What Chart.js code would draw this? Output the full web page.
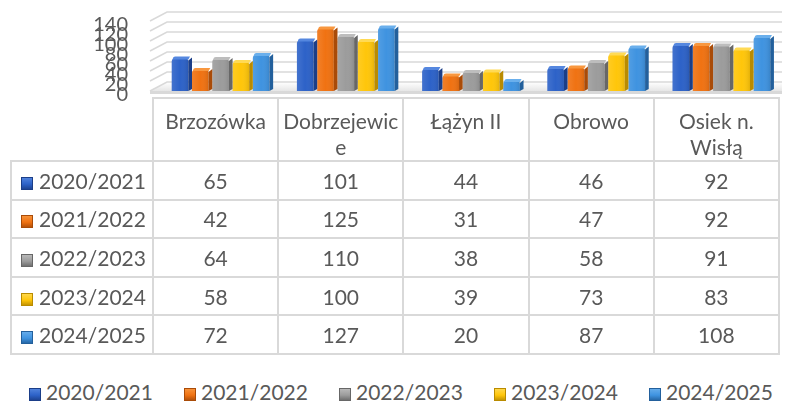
<!DOCTYPE html>
<html>
<head>
<meta charset="utf-8">
<script src="https://cdn.jsdelivr.net/npm/chart.js@4"></script>
<style>
  body { margin: 0; background: #fff; font-family: Lato, "Open Sans", sans-serif; color: #595959; }
  #page { position: relative; width: 791px; height: 403px; overflow: hidden; }
  #chartBox { position: absolute; left: 0; top: 0; width: 791px; height: 106px; }
  #tbl { position: absolute; left: 10px; top: 97px; width: 768px; border-collapse: collapse; table-layout: fixed; font-size: 21px; }
  #tbl td { border: 2px solid #d9d9d9; text-align: center; padding: 0; white-space: nowrap; }
  #tbl tr.head td { height: 62px; vertical-align: top; line-height: 26px; padding-top: 9px; box-sizing: border-box; }
  #tbl tr.head td.corner { border-top: none; border-left: none; }
  #tbl tr.row td { height: 36.6px; }
  #tbl td.name { text-align: left; padding-left: 9px; }
  .mk { display: inline-block; width: 12px; height: 13px; vertical-align: -1px; margin-right: 6px; }
  #legend { position: absolute; left: 29px; top: 379px; display: flex; font-size: 21px; line-height: 26px; }
  #legend .item { width: 155px; white-space: nowrap; }
  #legend .mk { margin-right: 5px; }
</style>
</head>
<body>
<div id="page">
  <div id="chartBox"><canvas id="chart"></canvas></div>
  <table id="tbl"></table>
  <div id="legend"></div>
</div>
<script>
const categories = ["Brzozówka", "Dobrzejewice", "Łążyn II", "Obrowo", "Osiek n. Wisłą"]
const headerLines = [["Brzozówka"], ["Dobrzejewic", "e"], ["Łążyn II"], ["Obrowo"], ["Osiek n.", "Wisłą"]]
const seasons = ["2020/2021", "2021/2022", "2022/2023", "2023/2024", "2024/2025"]
const values2020 = [65, 101, 44, 46, 92]
const values2021 = [42, 125, 31, 47, 92]
const values2022 = [64, 110, 38, 58, 91]
const values2023 = [58, 100, 39, 73, 83]
const values2024 = [72, 127, 20, 87, 108]
const seriesValues = [values2020, values2021, values2022, values2023, values2024]
const yTicks = [0, 20, 40, 60, 80, 100, 120, 140]

// front / side / top colours for each season
const frontColors = ["#2d62c8", "#f07212", "#9c9c9c", "#ffc60a", "#3f93e0"]
const sideColors = ["#1b3e88", "#a94b08", "#676767", "#b98b00", "#23609c"]
const topColors = ["#5587df", "#f8973f", "#bdbdbd", "#ffda55", "#6aafec"]

const BAR_PCT = 0.82

// table
const tbl = document.getElementById("tbl")
let html = '<colgroup><col style="width:142px">' + categories.map(() => '<col style="width:125.2px">').join("") + "</colgroup>"
html += '<tr class="head"><td class="corner"></td>' + headerLines.map((l) => "<td>" + l.join("<br>") + "</td>").join("") + "</tr>"
seasons.forEach((s, i) => {
  const mk = `<span class="mk" style="background:linear-gradient(180deg, ${topColors[i]} 0%, ${frontColors[i]} 55%, ${sideColors[i]} 100%);box-shadow:inset 0 0 0 1px ${sideColors[i]}"></span>`
  html += '<tr class="row"><td class="name">' + mk + s + "</td>" + seriesValues[i].map((v) => "<td>" + v + "</td>").join("") + "</tr>"
})
tbl.innerHTML = html

// legend
document.getElementById("legend").innerHTML = seasons
  .map((s, i) => `<div class="item"><span class="mk" style="background:linear-gradient(180deg, ${topColors[i]} 0%, ${frontColors[i]} 55%, ${sideColors[i]} 100%);box-shadow:inset 0 0 0 1px ${sideColors[i]}"></span>${s}</div>`)
  .join("")

// back wall, floor and gridlines of the 3D look
const wallPlugin = {
  id: "wall",
  beforeDatasetsDraw(chart) {
    const { ctx, chartArea, scales } = chart
    const y = scales.y
    const x0 = chartArea.left - 8
    const x1 = x0 + 17
    const xR = chartArea.right - 2
    const dy = 9
    const yb = y.getPixelForValue(0)
    ctx.save()
    // floor
    const g = ctx.createLinearGradient(0, yb - dy, 0, yb)
    g.addColorStop(0, "#ffffff")
    g.addColorStop(1, "#e6e6e6")
    ctx.fillStyle = g
    ctx.beginPath()
    ctx.moveTo(x0, yb)
    ctx.lineTo(x1, yb - dy)
    ctx.lineTo(xR, yb - dy)
    ctx.lineTo(xR, yb)
    ctx.closePath()
    ctx.fill()
    ctx.fillStyle = "#d9d9d9"
    ctx.fillRect(x0, yb, xR - x0, 3)
    // gridlines
    ctx.strokeStyle = "#d9d9d9"
    ctx.lineWidth = 1.5
    y.ticks.forEach((t) => {
      const py = y.getPixelForValue(t.value)
      ctx.beginPath()
      ctx.moveTo(x0, py)
      ctx.lineTo(x1, py - dy)
      ctx.lineTo(xR, py - dy)
      ctx.stroke()
    })
    ctx.restore()
  },
}

// side and top faces for each column
const bar3dPlugin = {
  id: "bar3d",
  afterDatasetsDraw(chart) {
    const ctx = chart.ctx
    ctx.save()
    chart.data.datasets.forEach((ds, i) => {
      const meta = chart.getDatasetMeta(i)
      meta.data.forEach((bar) => {
        const { x, y, width, base } = bar.getProps(["x", "y", "width", "base"], true)
        const l = x - width / 2
        const r = x + width / 2
        const d = width / BAR_PCT - width
        // side
        ctx.fillStyle = sideColors[i]
        ctx.beginPath()
        ctx.moveTo(r, y + 2)
        ctx.lineTo(r + d, y - 1)
        ctx.lineTo(r + d, base - 2)
        ctx.lineTo(r, base)
        ctx.closePath()
        ctx.fill()
        // top
        ctx.fillStyle = topColors[i]
        ctx.beginPath()
        ctx.moveTo(l + 1, y + 1)
        ctx.quadraticCurveTo(l + 1, y - 2, l + d, y - 2)
        ctx.lineTo(r + d - 2, y - 2)
        ctx.lineTo(r, y + 1)
        ctx.closePath()
        ctx.fill()
        // light edge on front
        const hg = ctx.createLinearGradient(l, 0, r, 0)
        hg.addColorStop(0, "rgba(255,255,255,0.10)")
        hg.addColorStop(0.5, "rgba(255,255,255,0)")
        hg.addColorStop(1, "rgba(0,0,0,0.10)")
        ctx.fillStyle = hg
        ctx.fillRect(l, y + 1, width, base - y - 1)
      })
    })
    ctx.restore()
  },
}

new Chart(document.getElementById("chart"), {
  type: "bar",
  data: {
    labels: categories,
    datasets: seasons.map((s, i) => ({
      label: s,
      data: seriesValues[i],
      backgroundColor: frontColors[i],
      borderWidth: 0,
      borderRadius: { topLeft: 3, topRight: 3, bottomLeft: 0, bottomRight: 0 },
      borderSkipped: "bottom",
      barPercentage: BAR_PCT,
      categoryPercentage: 0.81,
    })),
  },
  options: {
    responsive: true,
    maintainAspectRatio: false,
    devicePixelRatio: 1,
    animation: false,
    layout: { padding: { left: 0, right: 7, top: 21, bottom: 15 } },
    plugins: { legend: { display: false }, tooltip: { enabled: false }, title: { display: false } },
    scales: {
      x: { display: false },
      y: {
        min: yTicks[0],
        max: yTicks[yTicks.length - 1],
        afterBuildTicks: (scale) => {
          scale.ticks = yTicks.map((v) => ({ value: v }))
        },
        afterFit: (scale) => {
          scale.width = 158
          scale.paddingTop = 0
          scale.paddingBottom = 0
        },
        grid: { display: false, drawTicks: false },
        border: { display: false },
        ticks: {
          autoSkip: false,
          padding: 30,
          labelOffset: 4,
          color: "#595959",
          font: { family: "Lato", size: 20 },
        },
      },
    },
  },
  plugins: [wallPlugin, bar3dPlugin],
})
</script>
</body>
</html>
